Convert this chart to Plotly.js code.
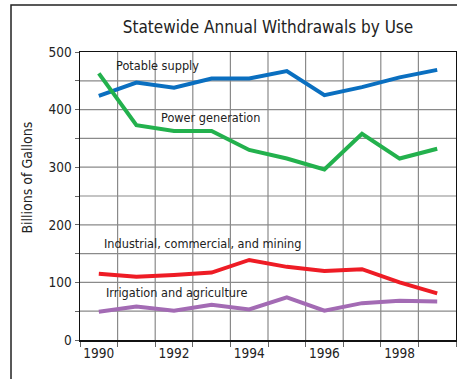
<!DOCTYPE html>
<html>
<head>
<meta charset="utf-8">
<script src="https://cdn.plot.ly/plotly-3.0.1.min.js"></script>
<style>
html,body{margin:0;padding:0;background:#fff;}
#chart{width:457px;height:379px;}
</style>
</head>
<body>
<div id="chart"></div>
<script>
const years = [1990,1991,1992,1993,1994,1995,1996,1997,1998,1999];
const potable = [424,447,438,454,454,467,425,439,456,469];
const power = [463,373,363,363,330,315,296,358,315,332];
const industrial = [115,110,113,117,139,127,120,123,100,81];
const irrigation = [49,58,51,61,53,74,51,64,68,67];
const tickYears = [1990,1992,1994,1996,1998];
const yGridVals = [50,100,150,200,250,300,350,400,450];
const seriesNames = ["Potable supply","Power generation","Industrial, commercial, and mining","Irrigation and agriculture"];
const colors = ["#0a6fc0","#23b14d","#ee1c25","#a36bb4"];

const FONT = '"DejaVu Sans Condensed","DejaVu Sans",sans-serif';
const GRID = '#8a8a8a';
const halfYears = years.map(y => y - 0.5).concat([years[years.length-1] + 0.5]);
const allSeries = [potable, power, industrial, irrigation];

const traces = allSeries.map((vals, i) => ({
  x: years, y: vals, type: 'scatter', mode: 'lines', name: seriesNames[i],
  line: {color: colors[i], width: 4}, hoverinfo: 'skip'
}));

const labelPos = [
  {x: 1990.4, y: 476},
  {x: 1991.6, y: 387},
  {x: 1990.08, y: 168},
  {x: 1990.14, y: 82}
];
const annotations = seriesNames.map((t, i) => ({
  text: t, x: labelPos[i].x, y: labelPos[i].y, xref: 'x', yref: 'y',
  xanchor: 'left', yanchor: 'middle', showarrow: false,
  font: {family: FONT, size: 12.6, color: '#222'}
}));
annotations.push({
  text: 'Billions of Gallons', xref: 'paper', yref: 'paper',
  x: -0.141, y: 0.564, textangle: -90, showarrow: false,
  xanchor: 'center', yanchor: 'middle',
  font: {family: FONT, size: 14, color: '#222'}
});

const shapes = [];
halfYears.slice(1, -1).forEach(v => shapes.push({
  type: 'line', xref: 'x', yref: 'paper', x0: v, x1: v, y0: 0, y1: 1,
  line: {color: GRID, width: 1.2}, layer: 'below'
}));
yGridVals.forEach(v => shapes.push({
  type: 'line', xref: 'paper', yref: 'y', x0: 0, x1: 1, y0: v, y1: v,
  line: {color: GRID, width: 1.2}, layer: 'below'
}));
shapes.push({
  type: 'rect', xref: 'paper', yref: 'paper',
  x0: -0.1835, x1: 1.05, y0: -0.2, y1: 1.163,
  line: {color: '#222', width: 1.5}, fillcolor: 'rgba(0,0,0,0)', layer: 'above'
});

const layout = {
  width: 457, height: 379,
  margin: {l: 80, r: 1, t: 52, b: 39, pad: 0},
  paper_bgcolor: '#fff', plot_bgcolor: 'rgba(0,0,0,0)',
  showlegend: false,
  title: {text: 'Statewide Annual Withdrawals by Use', x: 0.5, xref: 'paper',
          y: 1 - 27/379, yref: 'container', yanchor: 'middle',
          font: {family: FONT, size: 17, color: '#222'}},
  xaxis: {
    range: [1989.5, 1999.5], tickmode: 'array', tickvals: tickYears,
    ticktext: tickYears.map(String), ticks: '', showgrid: false, zeroline: false,
    showline: true, linecolor: '#111', linewidth: 1.5, mirror: true,
    tickfont: {family: FONT, size: 13.5, color: '#222'},
    minor: {tickmode: 'array', tickvals: halfYears, showgrid: false,
            ticks: 'outside', ticklen: 5, tickcolor: '#666', tickwidth: 1}
  },
  yaxis: {
    range: [0, 500], tickmode: 'linear', dtick: 100, tick0: 0, showgrid: false,
    ticks: 'outside', ticklen: 4, tickcolor: '#666', zeroline: false,
    showline: true, linecolor: '#111', linewidth: 1.5, mirror: true,
    tickfont: {family: FONT, size: 13.5, color: '#222'},
    minor: {tickmode: 'linear', dtick: 50, tick0: 0, showgrid: false,
            ticks: 'outside', ticklen: 4, tickcolor: '#666'}
  },
  annotations: annotations,
  shapes: shapes
};

Plotly.newPlot('chart', traces, layout, {staticPlot: true, displayModeBar: false});
</script>
</body>
</html>
